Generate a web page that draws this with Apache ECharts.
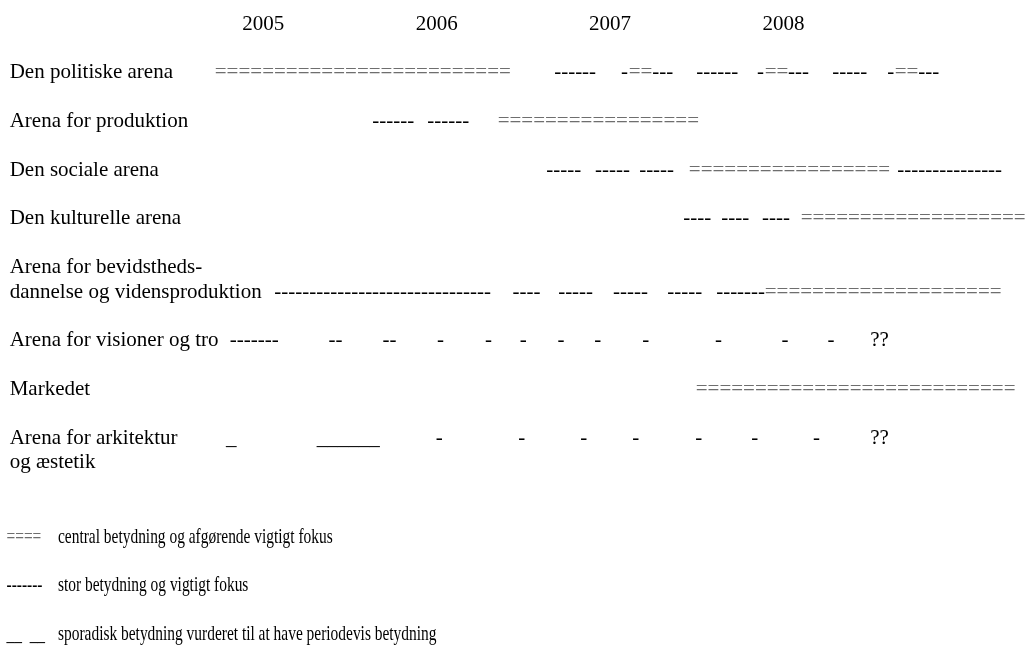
<!DOCTYPE html>
<html>
<head>
<meta charset="utf-8">
<script src="https://cdn.jsdelivr.net/npm/echarts@6/dist/echarts.min.js"></script>
<style>
html,body{margin:0;padding:0;background:#fff;}
#c{width:1026px;height:645px;}
</style>
</head>
<body>
<div id="c"></div>
<script>
// ---------------- DATA ----------------
const yearLabels = [2005, 2006, 2007, 2008];

const arenas = [
  'Den politiske arena',
  'Arena for produktion',
  'Den sociale arena',
  'Den kulturelle arena',
  'Arena for bevidstheds-\ndannelse og vidensproduktion',
  'Arena for visioner og tro',
  'Markedet',
  'Arena for arkitektur\nog æstetik'
];

const levels = ['central', 'stor', 'sporadisk', 'uafklaret'];
const levelNames = {
  central: 'central betydning og afgørende vigtigt fokus',
  stor: 'stor betydning og vigtigt fokus',
  sporadisk: 'sporadisk betydning vurderet til at have periodevis betydning',
  uafklaret: 'uafklaret'
};

// periods per arena: [start (year), end (year), level]
const politiske = [
  [2004.722, 2006.423, 'central'],
  [2006.682, 2006.913, 'stor'],
  [2007.068, 2007.097, 'stor'], [2007.109, 2007.238, 'central'], [2007.247, 2007.357, 'stor'],
  [2007.501, 2007.731, 'stor'],
  [2007.852, 2007.881, 'stor'], [2007.893, 2008.022, 'central'], [2008.031, 2008.141, 'stor'],
  [2008.285, 2008.481, 'stor'],
  [2008.602, 2008.631, 'stor'], [2008.642, 2008.772, 'central'], [2008.781, 2008.890, 'stor']
];
const produktion = [
  [2005.633, 2005.863, 'stor'],
  [2005.950, 2006.175, 'stor'],
  [2006.353, 2007.530, 'central']
];
const sociale = [
  [2006.636, 2006.820, 'stor'],
  [2006.918, 2007.109, 'stor'],
  [2007.172, 2007.362, 'stor'],
  [2007.455, 2008.596, 'central'],
  [2008.660, 2009.242, 'stor']
];
const kulturelle = [
  [2007.426, 2007.581, 'stor'],
  [2007.645, 2007.789, 'stor'],
  [2007.881, 2008.037, 'stor'],
  [2008.100, 2009.374, 'central']
];
const bevidsthed = [
  [2005.068, 2006.317, 'stor'],
  [2006.442, 2006.586, 'stor'],
  [2006.705, 2006.901, 'stor'],
  [2007.022, 2007.212, 'stor'],
  [2007.334, 2007.524, 'stor'],
  [2007.616, 2007.881, 'stor'],
  [2007.893, 2009.231, 'central']
];
const visioner = [
  [2004.812, 2005.081, 'stor'],
  [2005.381, 2005.452, 'stor'],
  [2005.692, 2005.765, 'stor'],
  [2006.006, 2006.035, 'stor'],
  [2006.283, 2006.313, 'stor'],
  [2006.484, 2006.514, 'stor'],
  [2006.702, 2006.732, 'stor'],
  [2006.913, 2006.943, 'stor'],
  [2007.190, 2007.220, 'stor'],
  [2007.609, 2007.639, 'stor'],
  [2007.993, 2008.023, 'stor'],
  [2008.258, 2008.288, 'stor'],
  [2008.508, 2008.604, 'uafklaret']
];
const markedet = [
  [2007.495, 2009.311, 'central']
];
const arkitektur = [
  [2004.785, 2004.843, 'sporadisk'],
  [2005.308, 2005.673, 'sporadisk'],
  [2006.000, 2006.029, 'stor'],
  [2006.475, 2006.504, 'stor'],
  [2006.832, 2006.861, 'stor'],
  [2007.132, 2007.161, 'stor'],
  [2007.495, 2007.524, 'stor'],
  [2007.818, 2007.847, 'stor'],
  [2008.175, 2008.204, 'stor'],
  [2008.508, 2008.604, 'uafklaret']
];
const periods = [politiske, produktion, sociale, kulturelle, bevidsthed, visioner, markedet, arkitektur];

// ---------------- LAYOUT / STYLE ----------------
const FONT_FAMILY = '"Liberation Serif", "Times New Roman", Times, serif';
const FS = 21;
const GRID_LEFT = 89.8, GRID_RIGHT = 69;
const TOP = 72.5, LINE_PX = 24.4;

// glyph metrics in em: advance, ink width, left bearing
const glyphs = {
  central:   { ch: '=', adv: 0.564, ink: 0.538, bear: 0.012, color: '#6e6e6e' },
  stor:      { ch: '-', adv: 0.333, ink: 0.248, bear: 0.039, color: '#000' },
  sporadisk: { ch: '_', adv: 0.5,   ink: 0.5,   bear: 0.0,   color: '#000' },
  uafklaret: { fixed: '??', bear: 0.07, color: '#000' }
};

// text-line layout: each arena takes its label lines plus a blank line;
// marks follow the label line that is not hyphen-wrapped
const labelLines = {};
const markLine = [];
let lineCursor = 0;
arenas.forEach(function (name) {
  const parts = name.split('\n');
  parts.forEach(function (p, k) { labelLines[lineCursor + k] = p; });
  let k = 0;
  while (k < parts.length - 1 && /-$/.test(parts[k])) k++;
  markLine.push(lineCursor + k);
  lineCursor += parts.length + 1;
});
const lastLine = lineCursor - 2;
const legendStart = lineCursor + 1;

const chart = echarts.init(document.getElementById('c'), null, { renderer: 'canvas' });

function makeRender(level) {
  const g = glyphs[level];
  return function (params, api) {
    const s = api.value(0), e = api.value(1), ln = api.value(2);
    const p0 = api.coord([s, ln]);
    const p1 = api.coord([e, ln]);
    let text;
    if (g.fixed) {
      text = g.fixed;
    } else {
      const n = Math.max(1, Math.round((p1[0] - p0[0] - g.ink * FS) / (g.adv * FS)) + 1);
      text = g.ch.repeat(n);
    }
    return {
      type: 'text',
      x: p0[0] - g.bear * FS,
      y: p0[1],
      style: {
        text: text,
        font: FS + 'px ' + FONT_FAMILY,
        fill: g.color,
        align: 'left',
        verticalAlign: 'middle'
      }
    };
  };
}

const series = levels.map(function (level) {
  const data = [];
  periods.forEach(function (list, i) {
    list.forEach(function (p) {
      if (p[2] === level) data.push([p[0], p[1], markLine[i], i]);
    });
  });
  return {
    type: 'custom',
    name: levelNames[level],
    renderItem: makeRender(level),
    dimensions: ['start', 'end', 'line', 'arena'],
    encode: { x: [0, 1], y: 2 },
    data: data,
    silent: true
  };
});

const textBase = { fontFamily: FONT_FAMILY, fontSize: FS, color: '#000' };

chart.setOption({
  backgroundColor: '#fff',
  animation: false,
  grid: {
    left: GRID_LEFT,
    right: GRID_RIGHT,
    top: TOP,
    height: LINE_PX * lastLine
  },
  xAxis: {
    type: 'value',
    position: 'top',
    min: 2004,
    max: 2009,
    interval: 1,
    axisLine: { show: false },
    axisTick: { show: false },
    splitLine: { show: false },
    axisLabel: Object.assign({}, textBase, {
      margin: LINE_PX * 2 - 1,
      verticalAlign: 'middle',
      formatter: function (v) { return yearLabels.indexOf(v) >= 0 ? String(v) : ''; }
    })
  },
  yAxis: {
    type: 'value',
    inverse: true,
    min: 0,
    max: lastLine,
    interval: 1,
    axisLine: { show: false },
    axisTick: { show: false },
    splitLine: { show: false },
    axisLabel: Object.assign({}, textBase, {
      align: 'left',
      verticalAlign: 'middle',
      margin: GRID_LEFT - 9.7,
      formatter: function (v) { return labelLines[v] || ''; }
    })
  },
  series: series
});

// legend as text lines under the chart (glyph + meaning)
const legendRows = [
  { glyph: '====', color: '#6e6e6e', text: levelNames.central },
  { glyph: '-------', color: '#000', text: levelNames.stor },
  { glyph: '__  __', color: '#000', text: levelNames.sporadisk }
];
const LEGEND_SCALE = 0.735;
const graphics = [];
legendRows.forEach(function (r, i) {
  const y = chart.convertToPixel({ yAxisIndex: 0 }, legendStart + 2 * i) + 1;
  graphics.push({
    type: 'text', x: 6.5, y: y, scaleX: LEGEND_SCALE, silent: true,
    style: { text: r.glyph, font: FS + 'px ' + FONT_FAMILY, fill: r.color, align: 'left', verticalAlign: 'middle' }
  });
  graphics.push({
    type: 'text', x: 58, y: y, scaleX: LEGEND_SCALE, silent: true,
    style: { text: r.text, font: FS + 'px ' + FONT_FAMILY, fill: '#000', align: 'left', verticalAlign: 'middle' }
  });
});
chart.setOption({ graphic: graphics });
</script>
</body>
</html>
